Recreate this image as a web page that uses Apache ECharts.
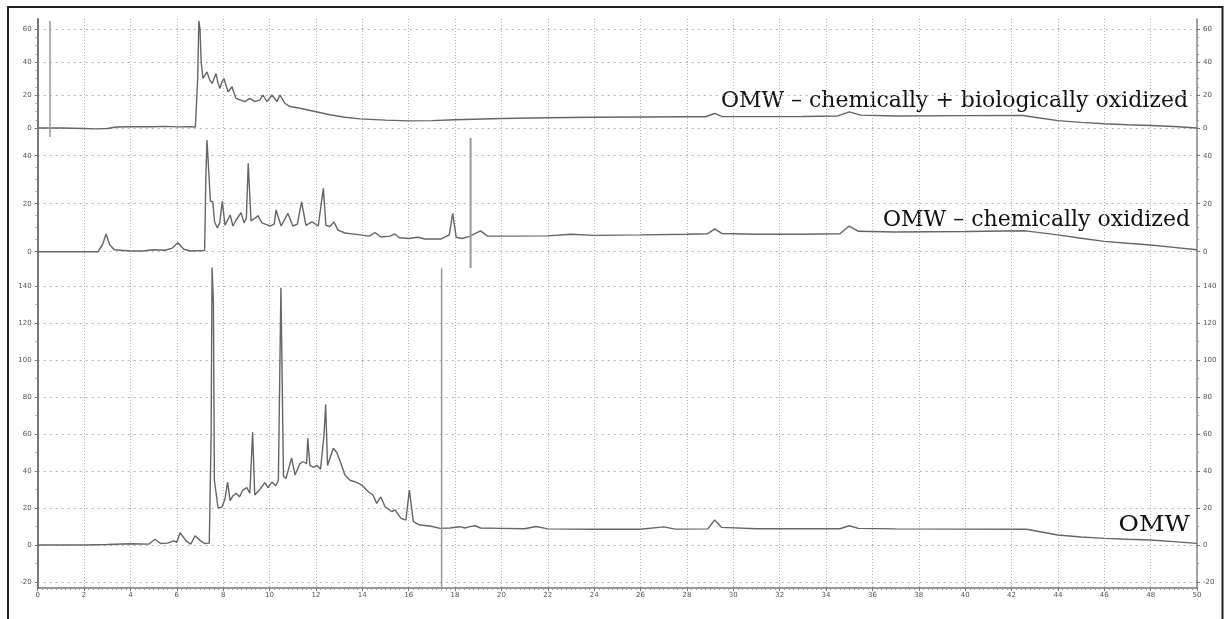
<!DOCTYPE html>
<html lang="en">
<head>
    <meta charset="UTF-8">
    <title>OMW chromatograms</title>
    <style>
        html,
        body {
            margin: 0;
            padding: 0;
            width: 100%;
            height: 100%;
            background: #fff;
        }

        #canvas {
            width: 1229px;
            height: 619px;
        }
    </style>
</head>
<body>
<div id="canvas"></div>
</body>
<script src="https://cdn.jsdelivr.net/npm/echarts@6.0.0/dist/echarts.min.js"></script>
<script>

    // OMW - chemically + biologically oxidized (top trace)
    const bioX = [0, 1, 2, 2.5, 3, 3.4, 4, 5, 5.5, 6, 6.5, 6.8, 6.9, 6.95, 7, 7.05, 7.13, 7.3, 7.42, 7.52,
        7.69, 7.78, 7.86, 7.95, 8.03, 8.12, 8.21, 8.38, 8.47, 8.55, 8.72, 8.94, 9.15, 9.37, 9.59, 9.71,
        9.89, 10.1, 10.32, 10.45, 10.66, 10.88, 11.31, 11.96, 12.6, 13.25, 13.9, 15, 16, 17, 18, 20, 22,
        24, 26, 28, 28.8, 29.2, 29.5, 31, 33, 34.5, 35, 35.5, 37, 40, 42.5, 43, 44, 45, 46, 47, 48, 49, 50]
    const bioY = [0, 0, -0.3, -0.5, -0.3, 0.6, 0.8, 0.8, 1, 0.7, 0.8, 0.6, 30, 65, 60, 40, 30, 34, 29, 27,
        33, 27, 24, 28, 30, 26, 22, 25, 21, 18, 17, 16, 18, 16, 17, 20,
        16, 20, 16, 20, 15, 13, 12, 10, 8, 6.5, 5.5, 4.8, 4.3, 4.5, 5, 5.8, 6.2,
        6.5, 6.7, 6.8, 6.8, 8.8, 7, 6.9, 7, 7.3, 9.8, 7.8, 7.3, 7.5, 7.6, 6.5, 4.5, 3.4, 2.6, 2, 1.5, 0.9, 0]
    const bioMarkerX = 0.53
    const bioMarkerY = [-5.5, 65]

    // OMW - chemically oxidized (middle trace)
    const chemX = [0, 2.6, 2.8, 2.95, 3.1, 3.3, 4, 4.5, 5, 5.5, 5.8, 6.05, 6.3, 6.6, 7.2, 7.25, 7.3, 7.38,
        7.45, 7.55, 7.63, 7.75, 7.85, 7.96, 8.08, 8.3, 8.42, 8.55, 8.77, 8.9, 9, 9.08, 9.2, 9.37, 9.5,
        9.67, 9.84, 10.02, 10.2, 10.28, 10.5, 10.79, 11, 11.2, 11.38, 11.57, 11.83, 12.1, 12.32, 12.43,
        12.6, 12.78, 12.95, 13.25, 13.9, 14.3, 14.55, 14.8, 15.2, 15.4, 15.6, 16, 16.4, 16.7, 17.4,
        17.75, 17.9, 18.05, 18.3, 18.6, 19.1, 19.4, 20, 22, 23, 24, 26, 28, 28.9, 29.2, 29.5, 31, 33,
        34.6, 35, 35.4, 37, 40, 42.6, 44, 45, 46, 47, 48, 49, 50]
    const chemY = [0, 0, 3, 7.4, 3, 0.8, 0.3, 0.3, 0.8, 0.6, 1.5, 3.7, 1, 0.3, 0.5, 30, 46.5, 46,
        21, 20.8, 12.4, 9.9, 12, 21, 11, 15.3, 10.7, 13, 16.3, 12, 14, 36.8, 12.8, 14, 15,
        12, 11.4, 10.7, 11.5, 17.4, 10.7, 16, 10.7, 11.5, 20.8, 11, 12.4, 10.7, 26.4, 11,
        10.5, 12.4, 9, 7.8, 7, 6.5, 8, 6.1, 6.5, 7.4, 5.8, 5.5, 6, 5.3, 5.3,
        7, 16, 6, 5.5, 6.3, 8.7, 6.5, 6.5, 6.6, 7.3, 6.8, 7, 7.3, 7.5, 9.5, 7.6, 7.3, 7.3,
        7.5, 10.7, 8.5, 8.2, 8.4, 8.7, 7, 5.6, 4.3, 3.5, 2.8, 1.8, 0.8]
    const chemMarkerX = 18.67
    const chemMarkerY = [-6.8, 47.4]

    // OMW (bottom trace)
    const omwX = [0, 1, 2, 3, 4, 4.8, 5.06, 5.3, 5.6, 5.85, 6, 6.14, 6.4, 6.6, 6.79, 7, 7.2, 7.4, 7.48,
        7.52, 7.58, 7.62, 7.78, 7.95, 8.08, 8.19, 8.3, 8.42, 8.56, 8.7, 8.85, 9.02, 9.15, 9.27, 9.36,
        9.58, 9.8, 9.93, 10.1, 10.27, 10.38, 10.49, 10.6, 10.71, 10.95, 11.1, 11.31, 11.45, 11.6, 11.65,
        11.74, 11.9, 12.05, 12.2, 12.35, 12.42, 12.5, 12.75, 12.9, 13.08, 13.25, 13.47, 13.73, 13.98,
        14.26, 14.46, 14.62, 14.8, 14.98, 15.28, 15.41, 15.67, 15.88, 16.03, 16.2, 16.48, 16.92, 17.35,
        17.78, 18.2, 18.43, 18.64, 18.86, 19.1, 20, 21, 21.5, 22, 24, 26, 27, 27.5, 28.9, 29.2, 29.5,
        31, 33, 34.6, 35, 35.4, 37, 40, 42.65, 44, 45, 46, 47, 48, 49, 50]
    const omwY = [0, 0, 0, 0.3, 0.7, 0.5, 3.1, 0.8, 1, 2.2, 1.5, 6.6, 2.2, 0.5, 5, 2.5, 0.8, 1, 60,
        150, 130, 35, 20, 20.5, 25, 34, 24, 26.5, 28, 26, 29.7, 31, 28, 61, 27,
        30, 33.7, 31, 34, 32, 35, 139, 37, 36, 47, 37.8, 44, 45, 44, 57.7,
        43, 42, 43, 41, 60, 76, 43, 52.3, 50, 44, 37.8, 35, 34, 32.4,
        28.8, 27, 22.5, 26, 20.7, 18, 19, 14.4, 13.5, 29.7, 12.6, 10.8, 10.3, 9,
        9.2, 9.9, 9.2, 9.9, 10.4, 9.2, 9, 8.8, 10, 8.7, 8.5, 8.5, 9.8, 8.6, 8.7, 13.5, 9.5,
        8.8, 8.8, 8.8, 10.4, 9, 8.7, 8.6, 8.5, 5.4, 4.3, 3.6, 3.1, 2.7, 1.8, 0.9]
    const omwMarkerX = 17.42
    const omwMarkerY = [-23, 149.6]

    const labels = [
        'OMW \u2013 chemically + biologically oxidized',
        'OMW \u2013 chemically oxidized',
        'OMW'
    ]

    const zip = (xs, ys) => xs.map((x, i) => [x, ys[i]])

    const gridColor = '#b3b3b3'
    const labelStyle = { fontSize: 7, color: '#555', fontFamily: 'DejaVu Sans' }

    function panelAxes(gridIndex, min, max, minorSplit) {
        const base = {
            gridIndex,
            type: 'value',
            min,
            max,
            interval: 20,
            axisLine: { show: false },
            axisTick: { show: true, length: 3, lineStyle: { color: '#777' } },
            minorTick: { show: true, splitNumber: minorSplit, length: 2, lineStyle: { color: '#999' } },
            axisLabel: Object.assign({ margin: 6 }, labelStyle),
            splitLine: { show: false }
        }
        const left = Object.assign({}, base, {
            position: 'left',
            splitLine: { show: true, lineStyle: { color: gridColor, type: [2, 4], width: 1 } }
        })
        const right = Object.assign({}, base, { position: 'right' })
        return [left, right]
    }

    function hiddenX(gridIndex) {
        return { gridIndex, type: 'value', min: 0, max: 50, show: false }
    }

    function trace(name, xs, ys, axis) {
        return {
            name,
            type: 'line',
            xAxisIndex: axis,
            yAxisIndex: axis * 2,
            data: zip(xs, ys),
            showSymbol: false,
            clip: false,
            lineStyle: { color: '#666', width: 1.4 },
            animation: false
        }
    }

    function marker(xv, yRange, axis, width) {
        return {
            type: 'line',
            xAxisIndex: axis,
            yAxisIndex: axis * 2,
            data: [[xv, yRange[0]], [xv, yRange[1]]],
            showSymbol: false,
            clip: false,
            lineStyle: { color: '#999', width },
            animation: false
        }
    }

    const chart = echarts.init(document.getElementById('canvas'))

    const left = 37.7
    const right = 32

    chart.setOption({
        backgroundColor: '#fff',
        animation: false,
        grid: [
            { left, right, top: 19, bottom: 31, containLabel: false, outerBoundsMode: 'none' },
            { left, right, top: 29, height: 99, containLabel: false, outerBoundsMode: 'none' },
            { left, right, top: 155.7, height: 96, containLabel: false, outerBoundsMode: 'none' },
            { left, right, top: 286, height: 296, containLabel: false, outerBoundsMode: 'none' }
        ],
        xAxis: [
            {
                gridIndex: 0,
                type: 'value',
                min: 0,
                max: 50,
                interval: 2,
                axisLine: { show: true, lineStyle: { color: '#777', width: 1.5 } },
                axisTick: { show: true, length: 3, lineStyle: { color: '#777' } },
                minorTick: { show: true, splitNumber: 10, length: 2, lineStyle: { color: '#999' } },
                axisLabel: Object.assign({ margin: 4 }, labelStyle),
                splitLine: { show: true, lineStyle: { color: gridColor, type: [1, 2], width: 1 } }
            },
            hiddenX(1),
            hiddenX(2),
            hiddenX(3)
        ],
        yAxis: [
            {
                gridIndex: 0, type: 'value', min: 0, max: 1, position: 'left',
                axisLine: { show: true, lineStyle: { color: '#777', width: 2 } },
                axisTick: { show: false }, axisLabel: { show: false }, splitLine: { show: false }
            },
            {
                gridIndex: 0, type: 'value', min: 0, max: 1, position: 'right',
                axisLine: { show: true, lineStyle: { color: '#888', width: 1.5 } },
                axisTick: { show: false }, axisLabel: { show: false }, splitLine: { show: false }
            },
            ...panelAxes(1, 0, 60, 4),
            ...panelAxes(2, 0, 40, 4),
            ...panelAxes(3, -20, 140, 2)
        ],
        series: [
            trace(labels[0], bioX, bioY, 1),
            marker(bioMarkerX, bioMarkerY, 1, 1.5),
            trace(labels[1], chemX, chemY, 2),
            marker(chemMarkerX, chemMarkerY, 2, 2),
            trace(labels[2], omwX, omwY, 3),
            marker(omwMarkerX, omwMarkerY, 3, 1.5)
        ],
        graphic: [
            {
                type: 'rect',
                shape: { x: 8, y: 7, width: 1214.5, height: 640 },
                style: { fill: 'none', stroke: '#222', lineWidth: 2 },
                silent: true
            },
            {
                type: 'text',
                style: {
                    text: labels[0], x: 1188, y: 101.5, textAlign: 'right', textVerticalAlign: 'middle',
                    font: '22px "DejaVu Serif"', fill: '#111'
                }
            },
            {
                type: 'text',
                style: {
                    text: labels[1], x: 1190, y: 220.5, textAlign: 'right', textVerticalAlign: 'middle',
                    font: '22px "DejaVu Serif"', fill: '#111'
                }
            },
            {
                type: 'text',
                x: 1190,
                y: 525,
                scaleX: 1.13,
                style: {
                    text: labels[2], x: 0, y: 0, textAlign: 'right', textVerticalAlign: 'middle',
                    font: '22px "DejaVu Serif"', fill: '#111'
                }
            }
        ]
    })
</script>
</html>
